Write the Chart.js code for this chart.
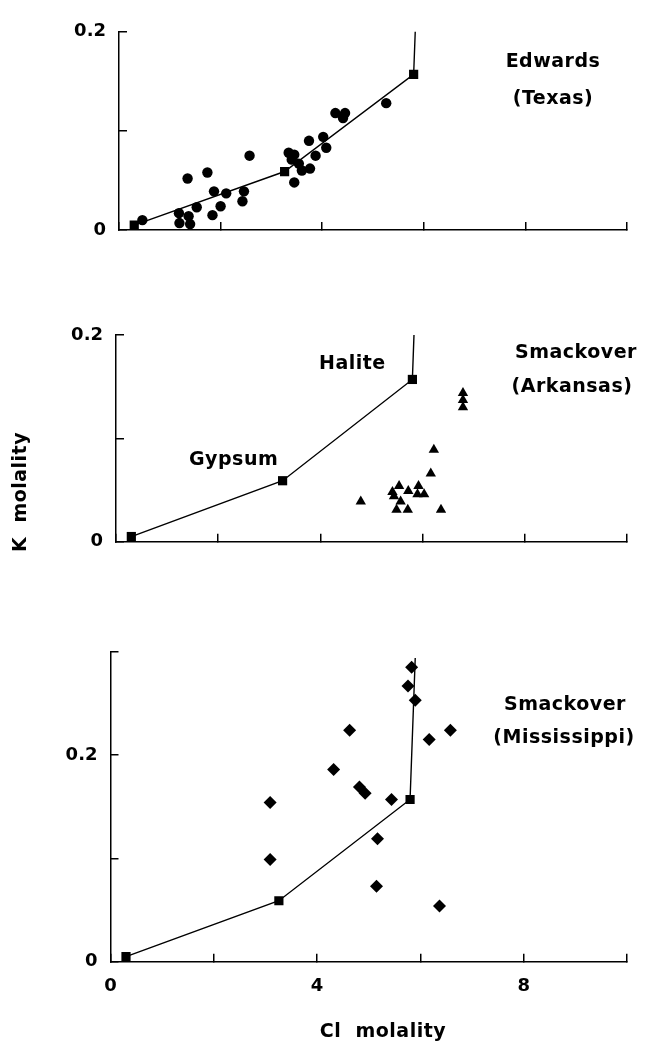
<!DOCTYPE html>
<html>
<head>
<meta charset="utf-8">
<script src="https://cdn.jsdelivr.net/npm/chart.js@4.4.1/dist/chart.umd.min.js"></script>
<style>
  html, body { margin: 0; padding: 0; background: #fff; }
  #page { position: relative; width: 649px; height: 1044px; }
  canvas { position: absolute; left: 0; }
</style>
</head>
<body>
<div id="page">
  <canvas id="edwards" width="649" height="270" style="top:0"></canvas>
  <canvas id="arkansas" width="649" height="290" style="top:290px"></canvas>
  <canvas id="mississippi" width="649" height="424" style="top:620px"></canvas>
</div>
<script>
// seawater evaporation path: gypsum then halite saturation
const curveCl = [0.3, 3.26, 5.8, 5.9];
const curveK = [0.005, 0.059, 0.157, 0.294];

const edwardsCl = [0.46, 1.18, 1.19, 1.37, 1.40, 1.35, 1.53, 1.74, 1.84, 1.87, 2.00, 2.11, 2.46, 2.43, 2.57,
  3.34, 3.45, 3.45, 3.54, 3.60, 3.76, 3.87, 3.74, 4.02, 4.08, 4.26, 4.45, 4.41, 5.26, 3.40];
const edwardsK = [0.010, 0.017, 0.007, 0.014, 0.006, 0.052, 0.023, 0.058, 0.015, 0.039, 0.024, 0.037, 0.039, 0.029, 0.075,
  0.078, 0.076, 0.048, 0.067, 0.060, 0.062, 0.075, 0.090, 0.094, 0.083, 0.118, 0.118, 0.113, 0.128, 0.071];

const arkansasCl = [4.79, 5.41, 5.54, 5.44, 5.57, 5.49, 5.71, 5.72, 5.92, 5.90, 6.03, 6.16, 6.22, 6.36, 6.79, 6.79, 6.79];
const arkansasK = [0.039, 0.048, 0.054, 0.044, 0.039, 0.031, 0.031, 0.049, 0.054, 0.046, 0.046, 0.066, 0.089, 0.031, 0.144, 0.137, 0.130];

const mississippiCl = [3.09, 3.09, 5.83, 5.76, 5.90, 4.63, 6.17, 6.58, 4.32, 4.82, 4.93, 5.44, 5.17, 5.15, 6.37];
const mississippiK = [0.154, 0.099, 0.285, 0.267, 0.253, 0.224, 0.215, 0.224, 0.186, 0.169, 0.163, 0.157, 0.119, 0.073, 0.054];

const xLabels = [0, 4, 8];
const yLabels = [0, 0.2];

const FONT = '"DejaVu Sans", sans-serif';
const zip = (xs, ys) => xs.map((x, i) => ({ x, y: ys[i] }));

// free text (titles, mineral names, axis names)
const notes = {
  id: 'notes',
  afterDraw(chart, args, opts) {
    const ctx = chart.ctx;
    ctx.save();
    ctx.fillStyle = '#000';
    ctx.font = 'bold 19px ' + FONT;
    ctx.letterSpacing = '0.5px';
    for (const n of opts.items || []) {
      ctx.save();
      ctx.translate(n.x, n.y);
      if (n.rotate) ctx.rotate(n.rotate);
      ctx.textAlign = n.align || 'center';
      ctx.textBaseline = n.baseline || 'alphabetic';
      ctx.fillText(n.text, 0, 0);
      ctx.restore();
    }
    ctx.restore();
  }
};

function curveSet() {
  return {
    data: zip(curveCl, curveK),
    showLine: true,
    borderColor: '#000',
    borderWidth: 1.4,
    pointStyle: 'rect',
    pointRadius: [6.5, 6.5, 6.5, 0],
    pointBackgroundColor: '#000',
    pointBorderWidth: 0,
    clip: { left: false, right: false, top: 0, bottom: false }
  };
}

function axisStyle() {
  return {
    grid: { display: true, drawOnChartArea: false, drawTicks: true, tickLength: -8, color: '#000', lineWidth: 1.5 },
    border: { display: true, color: '#000', width: 1.5 }
  };
}

function panel(id, g, samples, showX, items) {
  const tickFont = { family: FONT, size: 18, weight: 'bold' };
  return new Chart(document.getElementById(id), {
    type: 'scatter',
    data: { datasets: [curveSet(), samples] },
    options: {
      responsive: false,
      animation: false,
      events: [],
      layout: { padding: { left: 0, right: 649 - g.right, top: g.top - g.canvasTop, bottom: 0 } },
      plugins: { legend: { display: false }, tooltip: { enabled: false }, notes: { items } },
      scales: {
        x: {
          type: 'linear', min: 0, max: 10,
          ticks: {
            stepSize: 2, padding: 22, color: '#000', font: tickFont, maxRotation: 0, autoSkip: false,
            callback: v => (showX && xLabels.includes(v)) ? String(v) : ''
          },
          ...axisStyle(),
          afterFit: s => { s.height = g.canvasH - (g.bottom - g.canvasTop); }
        },
        y: {
          type: 'linear', min: 0, max: g.yMax,
          ticks: {
            stepSize: 0.1, padding: 21, color: '#000', font: tickFont,
            callback: v => {
              const hit = yLabels.find(t => Math.abs(t - v) < 1e-9);
              return hit === undefined ? '' : String(hit);
            }
          },
          ...axisStyle(),
          afterFit: s => { s.width = g.left; }
        }
      }
    },
    plugins: [notes]
  });
}

panel('edwards',
  { canvasTop: 0, canvasH: 270, left: 119, right: 649, top: 20, bottom: 230, yMax: 0.2 },
  { data: zip(edwardsCl, edwardsK), pointStyle: 'circle', pointRadius: 5.2, pointBackgroundColor: '#000', pointBorderWidth: 0 },
  false,
  [
    { text: 'Edwards', x: 553, y: 67 },
    { text: '(Texas)', x: 553, y: 103.5 }
  ]);

panel('arkansas',
  { canvasTop: 290, canvasH: 290, left: 116, right: 644, top: 335, bottom: 541.7, yMax: 0.2 },
  { data: zip(arkansasCl, arkansasK), pointStyle: 'triangle', pointRadius: 6, pointBackgroundColor: '#000', pointBorderWidth: 0 },
  false,
  [
    { text: 'Halite', x: 319, y: 79, align: 'left' },
    { text: 'Gypsum', x: 189, y: 175, align: 'left' },
    { text: 'Smackover', x: 576, y: 68 },
    { text: '(Arkansas)', x: 572, y: 102 },
    { text: 'K  molality', x: 21, y: 202, rotate: -Math.PI / 2, baseline: 'middle' }
  ]);

panel('mississippi',
  { canvasTop: 620, canvasH: 424, left: 110.5, right: 640.5, top: 647.3, bottom: 961.7, yMax: 0.3 },
  { data: zip(mississippiCl, mississippiK), pointStyle: 'rectRot', pointRadius: 6.5, pointBackgroundColor: '#000', pointBorderWidth: 0 },
  true,
  [
    { text: 'Smackover', x: 565, y: 90 },
    { text: '(Mississippi)', x: 564, y: 123 },
    { text: 'Cl  molality', x: 383, y: 417 }
  ]);
</script>
</body>
</html>
